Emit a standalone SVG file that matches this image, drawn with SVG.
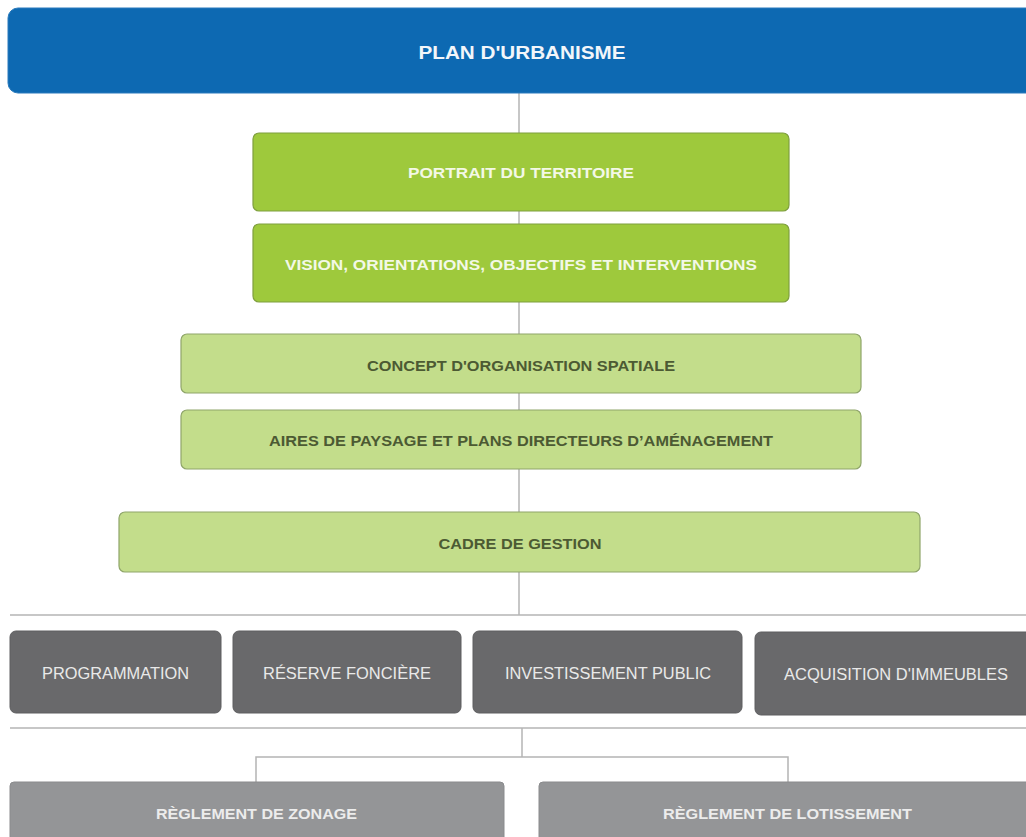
<svg xmlns="http://www.w3.org/2000/svg" width="1026" height="837" viewBox="0 0 1026 837">
  <style>
    text { font-family: "Liberation Sans", Arial, sans-serif; text-anchor: middle; }
    .blue { fill: #0d69b2; stroke: #2a7bbd; stroke-width: 1; }
    .green { fill: #9ec93c; stroke: #7f9f3e; stroke-width: 1.2; }
    .lgreen { fill: #c3dd8b; stroke: #8fa56a; stroke-width: 1.2; }
    .dgray { fill: #69696b; stroke: #5e5e60; stroke-width: 1; }
    .mgray { fill: #949597; stroke: #8a8b8d; stroke-width: 1; }
    .t-white { fill: #f2f6fa; font-weight: bold; }
    .t-lgreen { fill: #f3f8e6; font-weight: bold; }
    .t-olive { fill: #4c5a33; font-weight: bold; }
    .t-gray { fill: #e9e9e9; }
    .t-gray-b { fill: #ececec; font-weight: bold; }
    .link { fill: none; stroke: #b4b4b4; stroke-width: 1.5; }
  </style>

  <rect width="1026" height="837" fill="#ffffff"/>

  <!-- connectors -->
  <g id="connectors">
    <line class="link" x1="519" y1="93" x2="519" y2="615"/>
    <line class="link" x1="10" y1="615" x2="1026" y2="615"/>
    <line class="link" x1="10" y1="728" x2="1026" y2="728"/>
    <polyline class="link" points="522,728 522,757"/>
    <polyline class="link" points="256,782 256,757 788,757 788,782"/>
  </g>

  <g id="plan-urbanisme">
    <rect class="blue" x="8" y="8" width="1040" height="85" rx="10"/>
    <text class="t-white" x="522" y="58.5" font-size="19" textLength="207" lengthAdjust="spacingAndGlyphs">PLAN D'URBANISME</text>
  </g>

  <g id="portrait">
    <rect class="green" x="253" y="133" width="536" height="78" rx="6"/>
    <text class="t-lgreen" x="521" y="178" font-size="15.5" textLength="226" lengthAdjust="spacingAndGlyphs">PORTRAIT DU TERRITOIRE</text>
  </g>

  <g id="vision">
    <rect class="green" x="253" y="224" width="536" height="78" rx="6"/>
    <text class="t-lgreen" x="521" y="270" font-size="15.5" textLength="472" lengthAdjust="spacingAndGlyphs">VISION, ORIENTATIONS, OBJECTIFS ET INTERVENTIONS</text>
  </g>

  <g id="concept">
    <rect class="lgreen" x="181" y="334" width="680" height="59" rx="6"/>
    <text class="t-olive" x="521" y="371" font-size="15" textLength="308" lengthAdjust="spacingAndGlyphs">CONCEPT D'ORGANISATION SPATIALE</text>
  </g>

  <g id="aires">
    <rect class="lgreen" x="181" y="410" width="680" height="59" rx="6"/>
    <text class="t-olive" x="521" y="446" font-size="15" textLength="504" lengthAdjust="spacingAndGlyphs">AIRES DE PAYSAGE ET PLANS DIRECTEURS D’AMÉNAGEMENT</text>
  </g>

  <g id="cadre">
    <rect class="lgreen" x="119" y="512" width="801" height="60" rx="6"/>
    <text class="t-olive" x="520" y="549" font-size="15" textLength="163" lengthAdjust="spacingAndGlyphs">CADRE DE GESTION</text>
  </g>

  <g id="programmation">
    <rect class="dgray" x="10" y="631" width="211" height="82" rx="6"/>
    <text class="t-gray" x="115.5" y="679" font-size="16" textLength="147" lengthAdjust="spacingAndGlyphs">PROGRAMMATION</text>
  </g>

  <g id="reserve">
    <rect class="dgray" x="233" y="631" width="228" height="82" rx="6"/>
    <text class="t-gray" x="347" y="679" font-size="16" textLength="168" lengthAdjust="spacingAndGlyphs">RÉSERVE FONCIÈRE</text>
  </g>

  <g id="investissement">
    <rect class="dgray" x="473" y="631" width="269" height="82" rx="6"/>
    <text class="t-gray" x="608" y="679" font-size="16" textLength="206" lengthAdjust="spacingAndGlyphs">INVESTISSEMENT PUBLIC</text>
  </g>

  <g id="acquisition">
    <rect class="dgray" x="755" y="632" width="290" height="83" rx="6"/>
    <text class="t-gray" x="896" y="680" font-size="16" textLength="224" lengthAdjust="spacingAndGlyphs">ACQUISITION D'IMMEUBLES</text>
  </g>

  <g id="zonage">
    <rect class="mgray" x="10" y="782" width="494" height="70" rx="4"/>
    <text class="t-gray-b" x="256.5" y="819" font-size="15.5" textLength="201" lengthAdjust="spacingAndGlyphs">RÈGLEMENT DE ZONAGE</text>
  </g>

  <g id="lotissement">
    <rect class="mgray" x="539" y="782" width="500" height="70" rx="4"/>
    <text class="t-gray-b" x="787.5" y="819" font-size="15.5" textLength="249" lengthAdjust="spacingAndGlyphs">RÈGLEMENT DE LOTISSEMENT</text>
  </g>
</svg>
